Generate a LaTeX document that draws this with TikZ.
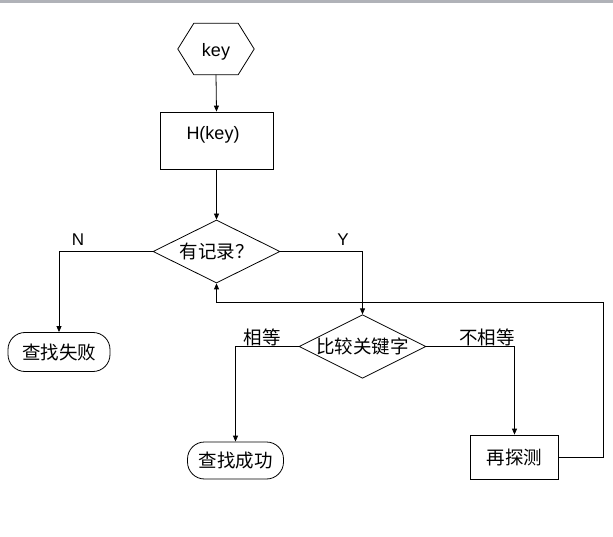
\documentclass[tikz,border=0pt]{standalone}
\usepackage{fontspec}
\setmainfont{Liberation Sans}
\newfontfamily\cjk{Noto Sans CJK SC}
\usetikzlibrary{shapes.geometric,arrows.meta}
\definecolor{barcol}{RGB}{176,178,184}
\tikzset{
  lat/.style={font=\fontsize{18}{20}\selectfont},
  zh/.style={font=\cjk\fontsize{18.5}{20}\selectfont},
  lbl/.style={font=\fontsize{17}{18}\selectfont},
  zhlbl/.style={font=\cjk\fontsize{18.5}{20}\selectfont},
  stepbox/.style={draw, line width=0.8pt, inner sep=0pt},
  term/.style={draw, line width=0.8pt, rounded corners=17pt, inner sep=0pt},
  decide/.style={draw, diamond, line width=0.8pt, inner sep=0pt, aspect=2},
  conn/.style={line width=0.8pt, -{Triangle[length=6pt,width=5pt]}},
  plain/.style={line width=0.8pt}
}
\begin{document}
\begin{tikzpicture}[x=1pt,y=-1pt]
\useasboundingbox (0,0) rectangle (613,537);
\fill[barcol] (0,0) rectangle (613,3.5);

% start hexagon
\node[minimum width=76pt, minimum height=51pt, inner sep=0pt] (key) at (216,49) {};
\draw[line width=0.8pt] (key.west) -- ([xshift=16pt]key.north west) -- ([xshift=-16pt]key.north east)
  -- (key.east) -- ([xshift=-16pt]key.south east) -- ([xshift=16pt]key.south west) -- cycle;
\node[lat] (keyt) at (216,52) {key};

% H(key)
\node[stepbox, minimum width=113pt, minimum height=57pt] (H) at (216.5,140.5) {};
\node[lat] (Ht) at (213,135) {H(key)};

% decision 1
\node[decide, zh, minimum width=127pt, minimum height=63pt] (d1) at (216.5,251.5) {有记录？};

% fail
\node[term, zh, minimum width=102pt, minimum height=39pt] (fail) at (59,352) {查找失败};

% decision 2
\node[decide, zh, minimum width=125pt, minimum height=63pt] (d2) at (362.5,346.5) {比较关键字};

% success
\node[term, zh, minimum width=96pt, minimum height=37pt] (succ) at (235.5,460.5) {查找成功};

% probe again
\node[stepbox, zh, minimum width=88pt, minimum height=44pt] (probe) at (514.5,457) {再探测};

\coordinate (loopR) at (603.5,302);

% connectors
\draw[conn] (key.south) -- (H.north);
\draw[conn] (H.south) -- (d1.north);
\draw[conn] (d1.west) -| (fail.north);
\draw[conn] (d1.east) -| (d2.north);
\draw[conn] (d2.west) -| (succ.north);
\draw[conn] (d2.east) -| (probe.north);
\draw[conn] (probe.east) -| (loopR) -| (d1.south);

% labels
\node[lbl] (lN) at (78,240) {N};
\node[lbl] (lY) at (343,240) {Y};
\node[zhlbl] (lEq) at (262,337) {相等};
\node[zhlbl] (lNe) at (487,337) {不相等};
\end{tikzpicture}
\end{document}
